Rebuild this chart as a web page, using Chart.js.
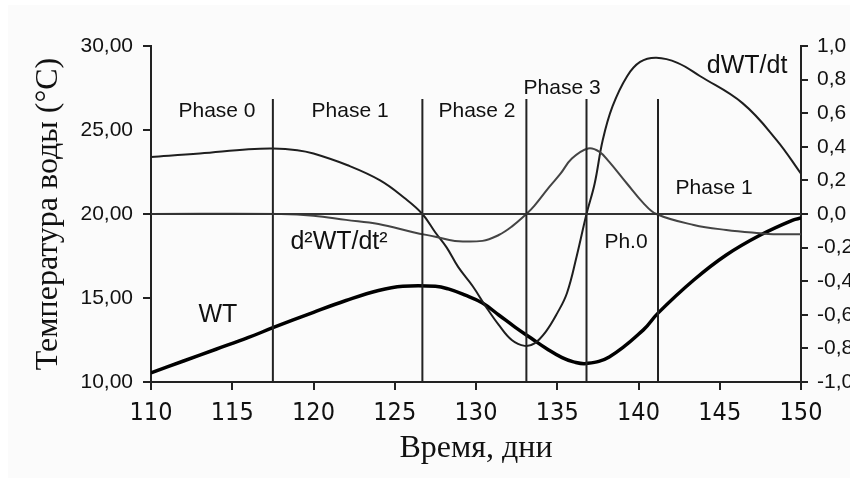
<!DOCTYPE html>
<html>
<head>
<meta charset="utf-8">
<script src="https://cdn.jsdelivr.net/npm/chart.js@4.4.1/dist/chart.umd.min.js"></script>
<style>
  html, body { margin: 0; padding: 0; background: #fff; }
</style>
</head>
<body>
<canvas id="myChart" width="850" height="478"></canvas>
<script>

// WT, temperatura del agua (eje izquierdo)
let wtDias = [110, 112, 114, 116, 117.5, 120, 122, 124, 125.5, 127.5, 128.3, 129.3, 130.4, 131.4, 132.4, 133.4, 134.4, 135.3, 136, 136.8, 138.2, 140.3, 141.2, 143.4, 145.4, 147.5, 149.5, 150]
let wtTemp = [10.55, 11.25, 11.95, 12.65, 13.23, 14.15, 14.85, 15.45, 15.7, 15.7, 15.54, 15.18, 14.7, 13.99, 13.27, 12.6, 11.95, 11.45, 11.2, 11.1, 11.49, 13.1, 14.1, 16.07, 17.56, 18.75, 19.64, 19.76]

// dWT/dt (eje derecho)
let dwtDias = [110, 113, 116, 117.5, 119, 120, 122.1, 124.1, 125.6, 126.7, 127.5, 128.2, 128.9, 129.8, 130.6, 131.4, 132.2, 133, 133.6, 134.3, 135, 135.6, 136.2, 136.8, 137.3, 137.8, 138.4, 139.3, 140.1, 141.1, 142.4, 143.8, 146.4, 148.5, 150]
let dwtVal = [0.34, 0.36, 0.385, 0.39, 0.38, 0.36, 0.29, 0.2, 0.095, 0, -0.11, -0.2, -0.315, -0.43, -0.55, -0.66, -0.75, -0.785, -0.77, -0.7, -0.59, -0.47, -0.25, 0, 0.18, 0.44, 0.64, 0.82, 0.905, 0.93, 0.9, 0.82, 0.66, 0.44, 0.24]

// d2WT/dt2 (eje derecho)
let d2wtDias = [110, 118, 120, 122, 124, 126.2, 127.5, 128.7, 130.4, 131.4, 132.2, 133.1, 133.6, 134.5, 135.2, 135.9, 136.9, 137.6, 138.2, 139.3, 140.3, 141.1, 143.4, 145.4, 147.5, 148.3, 150]
let d2wtVal = [0, 0, -0.01, -0.035, -0.06, -0.11, -0.135, -0.16, -0.16, -0.125, -0.075, 0, 0.05, 0.16, 0.24, 0.33, 0.39, 0.37, 0.31, 0.18, 0.065, 0, -0.065, -0.095, -0.115, -0.12, -0.12]

// limites de fases
let fases = [117.5, 126.7, 133.1, 136.8, 141.2]
let faseTop = 26.85

// textos dentro del grafico
let textos = ['Phase 0', 'Phase 1', 'Phase 2', 'Phase 3', 'dWT/dt', 'Phase 1', 'Ph.0', 'd\u00b2WT/dt\u00b2', 'WT']
let textosX = [114.06, 122.25, 130.06, 135.3, 146.68, 144.65, 139.23, 121.57, 114.12]
let textosY = [26.13, 26.13, 26.13, 27.5, 28.81, 21.55, 18.33, 18.33, 13.99]

function pares(xs, ys) {
  return xs.map((x, i) => ({ x: x, y: ys[i] }));
}

var datasets = []
datasets.push({ data: [{ x: 110, y: 0 }, { x: 150, y: 0 }], yAxisID: 'y1', borderColor: '#333', borderWidth: 2, tension: 0 })
fases.forEach(f => {
  datasets.push({ data: [{ x: f, y: 10 }, { x: f, y: faseTop }], yAxisID: 'y', borderColor: '#222', borderWidth: 2, tension: 0 })
})
datasets.push({ data: pares(d2wtDias, d2wtVal), yAxisID: 'y1', borderColor: '#444', borderWidth: 2, tension: 0.4 })
datasets.push({ data: pares(dwtDias, dwtVal), yAxisID: 'y1', borderColor: '#1e1e1e', borderWidth: 2, tension: 0.4 })
datasets.push({ data: pares(wtDias, wtTemp), yAxisID: 'y', borderColor: '#000', borderWidth: 3.5, tension: 0.4 })

const fondo = {
  id: 'fondo',
  beforeDraw(chart) {
    const ctx = chart.ctx;
    ctx.save();
    ctx.fillStyle = '#fbfbfb';
    ctx.fillRect(8, 5, chart.width - 8, chart.height - 5);
    ctx.restore();
  }
};

const rotulos = {
  id: 'rotulos',
  afterDatasetsDraw(chart) {
    const ctx = chart.ctx;
    const sx = chart.scales.x, sy = chart.scales.y;
    ctx.save();
    ctx.fillStyle = '#111';
    ctx.textAlign = 'center';
    ctx.textBaseline = 'middle';
    for (let i = 0; i < textos.length; i++) {
      let size = textos[i].startsWith('Ph') ? 21 : 25;
      ctx.font = size + 'px "Liberation Sans", Arial, sans-serif';
      ctx.fillText(textos[i], sx.getPixelForValue(textosX[i]), sy.getPixelForValue(textosY[i]));
    }
    ctx.restore();
  }
};

const config = {
  type: 'line',
  data: { datasets: datasets },
  plugins: [fondo, rotulos],
  options: {
    responsive: false,
    animation: false,
    layout: { padding: { top: 46, left: 0, right: 0, bottom: 0 } },
    elements: { point: { radius: 0 }, line: { fill: false } },
    plugins: { legend: { display: false }, tooltip: { enabled: false } },
    scales: {
      x: {
        type: 'linear',
        min: 110,
        max: 150,
        afterFit: s => { s.height = 96 },
        ticks: {
          stepSize: 5,
          padding: 8,
          color: '#111',
          font: { family: '"Liberation Sans Narrow", "DejaVu Sans Condensed", sans-serif', size: 25 }
        },
        grid: { drawOnChartArea: false, drawTicks: true, tickLength: 8, color: '#222', lineWidth: 2 },
        border: { display: true, color: '#222', width: 2 },
        title: {
          display: true,
          text: 'Время, дни',
          color: '#111',
          padding: { top: 0, bottom: 10 },
          font: { family: '"Liberation Serif", serif', size: 32, weight: 'normal' }
        }
      },
      y: {
        type: 'linear',
        position: 'left',
        min: 10,
        max: 30,
        afterFit: s => { s.width = 151 },
        ticks: {
          stepSize: 5,
          padding: 10,
          color: '#111',
          font: { family: '"Liberation Sans", Arial, sans-serif', size: 21 },
          callback: v => v.toFixed(2).replace('.', ',')
        },
        grid: { drawOnChartArea: false, drawTicks: true, tickLength: 8, color: '#222', lineWidth: 2 },
        border: { display: true, color: '#222', width: 2 },
        title: {
          display: true,
          text: 'Температура воды (°C)',
          color: '#111',
          padding: { top: 29, bottom: 0 },
          font: { family: '"Liberation Serif", serif', size: 32, weight: 'normal' }
        }
      },
      y1: {
        type: 'linear',
        position: 'right',
        min: -1,
        max: 1,
        afterFit: s => { s.width = 49 },
        ticks: {
          stepSize: 0.2,
          padding: 9,
          color: '#111',
          font: { family: '"Liberation Sans", Arial, sans-serif', size: 21 },
          callback: v => Math.abs(v) < 1e-9 ? '0,0' : v.toFixed(1).replace('.', ',')
        },
        grid: { drawOnChartArea: false, drawTicks: true, tickLength: 7, color: '#222', lineWidth: 2 },
        border: { display: true, color: '#222', width: 2 }
      }
    }
  }
};

window.onload = function () {
  var myChart = new Chart(document.getElementById('myChart'), config);
}
</script>
</body>
</html>
